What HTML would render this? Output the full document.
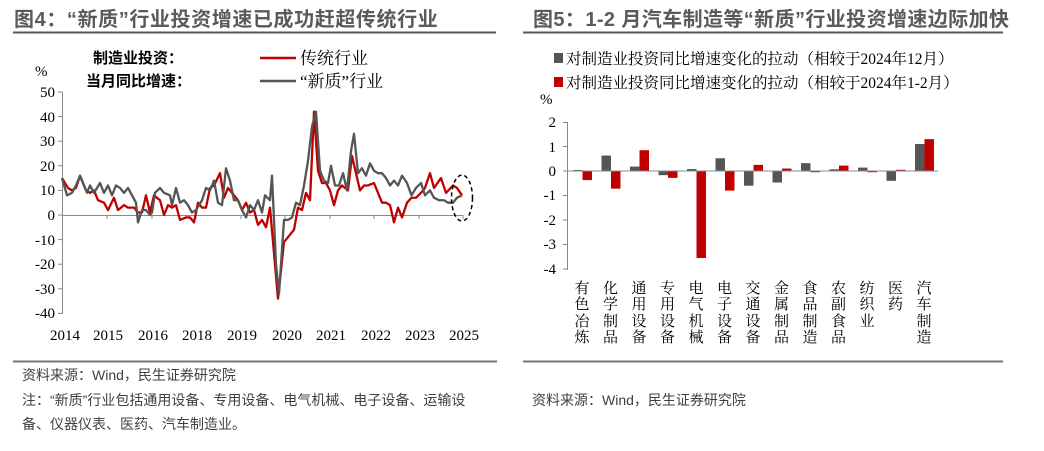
<!DOCTYPE html>
<html><head><meta charset="utf-8"><style>
body{margin:0;background:#fff;width:1044px;height:451px;overflow:hidden;font-family:"Liberation Sans","Noto Sans CJK SC",sans-serif}
svg{position:absolute;left:0;top:0}
.t{font-family:"Liberation Sans","Noto Sans CJK SC",sans-serif;font-weight:bold;font-size:20px;fill:#5a5a5a}
.n{font-family:"Liberation Serif","Noto Serif CJK SC",serif;font-size:15px;fill:#000}
.c{font-family:"Liberation Serif","Noto Serif CJK SC",serif;font-size:15px;fill:#000}
.s{font-family:"Liberation Sans","Noto Sans CJK SC",sans-serif;font-size:14px;fill:#404040}
</style></head><body>
<svg width="1044" height="451" viewBox="0 0 1044 451">
<text x="14" y="26" class="t" letter-spacing="0.6">图4：“新质”行业投资增速已成功赶超传统行业</text>
<line x1="13" y1="32.5" x2="496" y2="32.5" stroke="#555" stroke-width="2"/>
<text x="533" y="26" class="t" letter-spacing="0.4">图5：1-2 月汽车制造等“新质”行业投资增速边际加快</text>
<line x1="523" y1="32.5" x2="1003" y2="32.5" stroke="#555" stroke-width="2"/>

<!-- left legend -->
<text x="93" y="63" style="font-family:'Noto Sans CJK SC',sans-serif;font-weight:bold;font-size:15px">制造业投资：</text>
<text x="86" y="86" style="font-family:'Noto Sans CJK SC',sans-serif;font-weight:bold;font-size:15px">当月同比增速：</text>
<line x1="260" y1="58" x2="296" y2="58" stroke="#c00000" stroke-width="2.5"/>
<line x1="260" y1="81" x2="296" y2="81" stroke="#555" stroke-width="2.5"/>
<text x="300" y="64" class="c" style="font-size:17px">传统行业</text>
<text x="300" y="87" class="c" style="font-size:17px">“新质”行业</text>
<text x="35" y="76" class="n">%</text>

<!-- left axes -->
<line x1="62.5" y1="92" x2="62.5" y2="314" stroke="#888"/>
<g stroke="#888">
<line x1="58" y1="92" x2="62" y2="92"/><line x1="58" y1="116.6" x2="62" y2="116.6"/><line x1="58" y1="141.2" x2="62" y2="141.2"/><line x1="58" y1="165.8" x2="62" y2="165.8"/><line x1="58" y1="190.4" x2="62" y2="190.4"/><line x1="58" y1="215" x2="62" y2="215"/><line x1="58" y1="239.6" x2="62" y2="239.6"/><line x1="58" y1="264.2" x2="62" y2="264.2"/><line x1="58" y1="288.8" x2="62" y2="288.8"/><line x1="58" y1="313.4" x2="62" y2="313.4"/>
<line x1="62" y1="215.5" x2="463" y2="215.5"/>
<line x1="107" y1="215" x2="107" y2="219"/><line x1="152" y1="215" x2="152" y2="219"/><line x1="196" y1="215" x2="196" y2="219"/><line x1="241" y1="215" x2="241" y2="219"/><line x1="285" y1="215" x2="285" y2="219"/><line x1="330" y1="215" x2="330" y2="219"/><line x1="374" y1="215" x2="374" y2="219"/><line x1="419" y1="215" x2="419" y2="219"/><line x1="463" y1="215" x2="463" y2="219"/>
</g>
<g text-anchor="end">
<text x="55" y="97" class="n">50</text><text x="55" y="122" class="n">40</text><text x="55" y="146" class="n">30</text><text x="55" y="171" class="n">20</text><text x="55" y="195" class="n">10</text><text x="55" y="220" class="n">0</text><text x="55" y="245" class="n">-10</text><text x="55" y="269" class="n">-20</text><text x="55" y="294" class="n">-30</text><text x="55" y="318" class="n">-40</text>
</g>
<g text-anchor="middle">
<text x="65" y="340" class="n">2014</text><text x="108" y="340" class="n">2015</text><text x="153" y="340" class="n">2016</text><text x="197" y="340" class="n">2018</text><text x="242" y="340" class="n">2019</text><text x="287" y="340" class="n">2020</text><text x="331" y="340" class="n">2021</text><text x="376" y="340" class="n">2022</text><text x="420" y="340" class="n">2023</text><text x="464" y="340" class="n">2025</text>
</g>

<g transform="translate(0,215) scale(1,-2.46)" fill="none" stroke-linejoin="round">
<polyline vector-effect="non-scaling-stroke" stroke="#c00000" stroke-width="2.3" points="62,15 68,11 72,10 76,11 80,16 86,10 90,9 94,10 98,6 104,5 108,2 114,7 118,2 124,4 128,3 134,3 138,1 142,1 146,8 150,1 154,8 160,6 164,0 168,4 172,3 176,4 180,-2 186,-1 190,-1 194,-3 198,5 202,3 206,3 210,11 214,12 220,17 224,7 228,11 232,9 238,6 242,2 246,5 250,1 254,2 258,-4 262,-2 266,-5 270,3 278,-34 284,-11 290,-8 294,-6 298,3 302,2 306,9 310,6 314,42 318,18 322,13 326,13 330,10 334,4 338,10 342,12 348,10 352,24 356,17 360,10 364,12 368,12 374,13 378,9 382,5 386,5 390,4 394,-3 398,3 402,-1 407,5 411.5,7 416,7 421,9 425,11 430,17 434,11 441,15 446,9 453,12 457,11 462,8"/>
<polyline vector-effect="non-scaling-stroke" stroke="#555" stroke-width="2.3" points="62,15 67,8 72,9 76,12 80,16 84,12 87,9 90,12 94,9 100,13 104,9 108,12 112,8 116,12 120,11 124,9 128,11 132,8 136,5 138,-3 142,2 146,2 150,0 152,1 155,9 160,11 164,9 170,8 172,4 176,11 180,5 184,6 188,4 192,1 196,2 202,6 206,11 210,10 214,14 218,5 222,4 226,19 230,14 234,6 238,6 242,2 246,-1 250,4 254,2 258,6 262,1 265,8 270,6 272,16 276,-20 279,-32 284,-2 288,-2 292,-1 296,5 300,4 304,12 308,22 312,36 316,42 320,18 324,14 328,13 331,20 335,12 339,12 343,17 347,10 351,26 354,33 358,17 362,19 366,16 370,21 374,18 378,17 382,17 386,15 390,12 394,14 398,12 402,16 407,13 411.5,8 416,11 421,13 425,8 430,10 434,7 439,6 444,6 448,5 453,5 457,7 462,8"/>
</g>
<ellipse cx="462" cy="198" rx="10.5" ry="23" fill="none" stroke="#000" stroke-width="1.5" stroke-dasharray="4,3"/>

<!-- right legend -->
<rect x="554" y="53" width="9" height="10" fill="#555"/>
<text x="566" y="64" class="c" style="font-size:15.5px">对制造业投资同比增速变化的拉动（相较于2024年12月）</text>
<rect x="554" y="77" width="9" height="10" fill="#c00000"/>
<text x="566" y="88" class="c" style="font-size:15.5px">对制造业投资同比增速变化的拉动（相较于2024年1-2月）</text>
<text x="540" y="104" class="n">%</text>

<g stroke="#888">
<line x1="567.5" y1="122" x2="567.5" y2="270"/>
<line x1="563" y1="122.5" x2="568" y2="122.5"/><line x1="563" y1="146.5" x2="568" y2="146.5"/><line x1="563" y1="171" x2="568" y2="171"/><line x1="563" y1="195.5" x2="568" y2="195.5"/><line x1="563" y1="220" x2="568" y2="220"/><line x1="563" y1="244.5" x2="568" y2="244.5"/><line x1="563" y1="269" x2="568" y2="269"/>
</g>
<g text-anchor="end">
<text x="556" y="127" class="n">2</text><text x="556" y="152" class="n">1</text><text x="556" y="176" class="n">0</text><text x="556" y="200" class="n">-1</text><text x="556" y="225" class="n">-2</text><text x="556" y="249" class="n">-3</text><text x="556" y="274" class="n">-4</text>
</g>

<g transform="translate(0,171) scale(1,-24.5)">
<g fill="#555">
<rect x="573" y="0" width="9.5" height="0.04"/>
<rect x="601.5" y="0" width="9.5" height="0.63"/>
<rect x="630" y="0" width="9.5" height="0.18"/>
<rect x="658.5" y="-0.17" width="9.5" height="0.17"/>
<rect x="687" y="0" width="9.5" height="0.08"/>
<rect x="715.5" y="0" width="9.5" height="0.52"/>
<rect x="744" y="-0.6" width="9.5" height="0.6"/>
<rect x="772.5" y="-0.47" width="9.5" height="0.47"/>
<rect x="801" y="0" width="9.5" height="0.32"/>
<rect x="829.5" y="0" width="9.5" height="0.07"/>
<rect x="858" y="0" width="9.5" height="0.14"/>
<rect x="886.5" y="-0.4" width="9.5" height="0.4"/>
<rect x="915" y="0" width="9.5" height="1.1"/>
</g>
<g fill="#c00000">
<rect x="582.5" y="-0.37" width="9.5" height="0.37"/>
<rect x="611" y="-0.72" width="9.5" height="0.72"/>
<rect x="639.5" y="0" width="9.5" height="0.85"/>
<rect x="668" y="-0.28" width="9.5" height="0.28"/>
<rect x="696.5" y="-3.55" width="9.5" height="3.55"/>
<rect x="725" y="-0.8" width="9.5" height="0.8"/>
<rect x="753.5" y="0" width="9.5" height="0.25"/>
<rect x="782" y="0" width="9.5" height="0.1"/>
<rect x="810.5" y="-0.05" width="9.5" height="0.05"/>
<rect x="839" y="0" width="9.5" height="0.22"/>
<rect x="867.5" y="-0.05" width="9.5" height="0.05"/>
<rect x="896" y="0" width="9.5" height="0.05"/>
<rect x="924.5" y="0" width="9.5" height="1.3"/>
</g>
</g>
<line x1="567" y1="171" x2="938" y2="171" stroke="#888"/>

<g class="c" text-anchor="middle" style="font-size:15px">
<text x="582" y="293">有</text><text x="582" y="309">色</text><text x="582" y="326">冶</text><text x="582" y="342">炼</text>
<text x="610.5" y="293">化</text><text x="610.5" y="309">学</text><text x="610.5" y="326">制</text><text x="610.5" y="342">品</text>
<text x="639" y="293">通</text><text x="639" y="309">用</text><text x="639" y="326">设</text><text x="639" y="342">备</text>
<text x="667.5" y="293">专</text><text x="667.5" y="309">用</text><text x="667.5" y="326">设</text><text x="667.5" y="342">备</text>
<text x="696" y="293">电</text><text x="696" y="309">气</text><text x="696" y="326">机</text><text x="696" y="342">械</text>
<text x="724.5" y="293">电</text><text x="724.5" y="309">子</text><text x="724.5" y="326">设</text><text x="724.5" y="342">备</text>
<text x="753" y="293">交</text><text x="753" y="309">通</text><text x="753" y="326">设</text><text x="753" y="342">备</text>
<text x="781.5" y="293">金</text><text x="781.5" y="309">属</text><text x="781.5" y="326">制</text><text x="781.5" y="342">品</text>
<text x="810" y="293">食</text><text x="810" y="309">品</text><text x="810" y="326">制</text><text x="810" y="342">造</text>
<text x="838.5" y="293">农</text><text x="838.5" y="309">副</text><text x="838.5" y="326">食</text><text x="838.5" y="342">品</text>
<text x="867" y="293">纺</text><text x="867" y="309">织</text><text x="867" y="326">业</text>
<text x="895.5" y="293">医</text><text x="895.5" y="309">药</text>
<text x="924" y="293">汽</text><text x="924" y="309">车</text><text x="924" y="326">制</text><text x="924" y="342">造</text>
</g>

<line x1="13" y1="361.5" x2="497" y2="361.5" stroke="#777" stroke-width="2"/>
<line x1="523" y1="361.5" x2="1003" y2="361.5" stroke="#777" stroke-width="2"/>
<text x="22" y="380" class="s">资料来源：Wind，民生证券研究院</text>
<text x="22" y="405" class="s">注：“新质”行业包括通用设备、专用设备、电气机械、电子设备、运输设</text>
<text x="22" y="429" class="s">备、仪器仪表、医药、汽车制造业。</text>
<text x="532" y="405" class="s">资料来源：Wind，民生证券研究院</text>
</svg>
</body></html>
